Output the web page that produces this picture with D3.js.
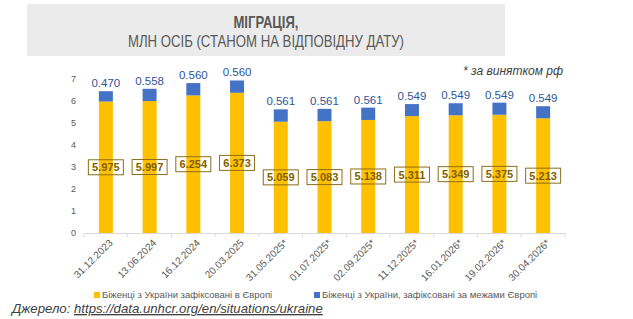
<!DOCTYPE html>
<html lang="uk">
<head>
<meta charset="utf-8">
<title>Міграція</title>
<script src="https://cdn.jsdelivr.net/npm/d3@7"></script>
<style>
body { margin: 0; background: #fff; font-family: "Liberation Sans", Arial, sans-serif; }
.title { fill: #595959; text-anchor: middle; }
.tick text { fill: #595959; }
</style>
</head>
<body>
<script>
// data
var dates = ["31.12.2023", "13.06.2024", "16.12.2024", "20.03.2025", "31.05.2025*", "01.07.2025*",
             "02.09.2025*", "11.12.2025*", "16.01.2026*", "19.02.2026*", "30.04.2026*"];
var inEurope = [5.975, 5.997, 6.254, 6.373, 5.059, 5.083, 5.138, 5.311, 5.349, 5.375, 5.213];
var outsideEurope = [0.470, 0.558, 0.560, 0.560, 0.561, 0.561, 0.561, 0.549, 0.549, 0.549, 0.549];
var yTicks = [0, 1, 2, 3, 4, 5, 6, 7];
var seriesNames = ["Біженці з України зафіксовані в Європі", "Біженці з України, зафіксовані за межами Європі"];

var W = 633, H = 319;
var plot = {left: 84, right: 565, top: 79, bottom: 233};

var svg = d3.select("body").append("svg")
  .attr("width", W).attr("height", H);

// title block
svg.append("rect").attr("x", 27).attr("y", 4).attr("width", 478).attr("height", 52).attr("fill", "#ebebeb");
svg.append("text").attr("class", "title").attr("x", 266).attr("y", 28)
  .attr("textLength", 65).attr("lengthAdjust", "spacingAndGlyphs")
  .style("font-size", "17px").style("font-weight", "bold").text("МІГРАЦІЯ,");
svg.append("text").attr("class", "title").attr("x", 266).attr("y", 47)
  .attr("textLength", 276).attr("lengthAdjust", "spacingAndGlyphs")
  .style("font-size", "17px").text("МЛН ОСІБ (СТАНОМ НА ВІДПОВІДНУ ДАТУ)");

svg.append("text").attr("x", 563).attr("y", 75).attr("text-anchor", "end")
  .style("font-size", "12px").style("font-style", "italic").attr("fill", "#404040")
  .text("* за винятком рф");

var x = d3.scaleBand().domain(dates).range([plot.left, plot.right]).paddingInner(0.68).paddingOuter(0.34);
var y = d3.scaleLinear().domain([0, 7]).range([plot.bottom, plot.top]);

// y axis (labels only)
svg.append("g").attr("transform", "translate(" + (plot.left - 8) + ",0)")
  .call(d3.axisLeft(y).tickValues(yTicks).tickFormat(d3.format("d")).tickSize(0).tickPadding(0))
  .call(function(g) { g.select(".domain").remove(); })
  .selectAll("text").style("font-size", "9px").attr("fill", "#7f7f7f");

// x axis
var xStep = x.step();
var xa = svg.append("g").attr("transform", "translate(0," + plot.bottom + ")")
  .call(d3.axisBottom(x).tickSize(0).tickPadding(0));
xa.select(".domain").attr("stroke", "#d9d9d9");
xa.selectAll("text")
  .style("font-size", "10px").attr("fill", "#595959")
  .attr("text-anchor", "end")
  .attr("transform", "translate(5,8) rotate(-45)")
  .attr("dy", "0.35em").attr("y", 0);
// category boundary ticks
svg.append("g").selectAll("line").data(d3.range(dates.length + 1)).join("line")
  .attr("x1", function(i) { return plot.left + i * xStep; })
  .attr("x2", function(i) { return plot.left + i * xStep; })
  .attr("y1", plot.bottom).attr("y2", plot.bottom + 4)
  .attr("stroke", "#d9d9d9");

var bw = x.bandwidth();

// yellow bars
svg.append("g").selectAll("rect").data(dates).join("rect")
  .attr("x", function(d) { return x(d); })
  .attr("width", bw)
  .attr("y", function(d, i) { return y(inEurope[i]); })
  .attr("height", function(d, i) { return y(0) - y(inEurope[i]); })
  .attr("fill", "#ffc000");

// blue bars
svg.append("g").selectAll("rect").data(dates).join("rect")
  .attr("x", function(d) { return x(d); })
  .attr("width", bw)
  .attr("y", function(d, i) { return y(inEurope[i] + outsideEurope[i]); })
  .attr("height", function(d, i) { return y(inEurope[i]) - y(inEurope[i] + outsideEurope[i]); })
  .attr("fill", "#4472c4");

// boxed labels for yellow
var lab = svg.append("g").selectAll("g").data(dates).join("g")
  .attr("transform", function(d, i) {
    return "translate(" + (x(d) + bw / 2) + "," + y(inEurope[i] / 2) + ")";
  });
lab.append("rect").attr("x", -17.5).attr("y", -7.5).attr("width", 35).attr("height", 15)
  .attr("fill", "none").attr("stroke", "#8b6e1a").attr("stroke-width", 1);
lab.append("text").attr("text-anchor", "middle").attr("dy", "0.36em")
  .style("font-size", "11px").style("font-weight", "bold").attr("fill", "#7f6000")
  .text(function(d, i) { return inEurope[i].toFixed(3); });

// blue value labels
svg.append("g").selectAll("text").data(dates).join("text")
  .attr("x", function(d) { return x(d) + bw / 2; })
  .attr("y", function(d, i) { return y(inEurope[i] + outsideEurope[i]) - 4; })
  .attr("text-anchor", "middle")
  .style("font-size", "11.5px").attr("fill", "#2f5597")
  .text(function(d, i) { return outsideEurope[i].toFixed(3); });

// legend
var legendX = [94, 314];
var legendCol = ["#ffc000", "#4472c4"];
var lg = svg.append("g").selectAll("g").data(seriesNames).join("g")
  .attr("transform", function(d, i) { return "translate(" + legendX[i] + ",298)"; });
lg.append("rect").attr("x", 0).attr("y", -6).attr("width", 6).attr("height", 6)
  .attr("fill", function(d, i) { return legendCol[i]; });
lg.append("text").attr("x", 8).attr("y", 0)
  .style("font-size", "9.5px").attr("fill", "#595959")
  .text(function(d) { return d; });

// source
var src = svg.append("text").attr("x", 12).attr("y", 313)
  .style("font-size", "13.2px").style("font-style", "italic").attr("fill", "#404040");
src.append("tspan").text("Джерело: ");
src.append("tspan").style("text-decoration", "underline").text("https://data.unhcr.org/en/situations/ukraine");
</script>
</body>
</html>
